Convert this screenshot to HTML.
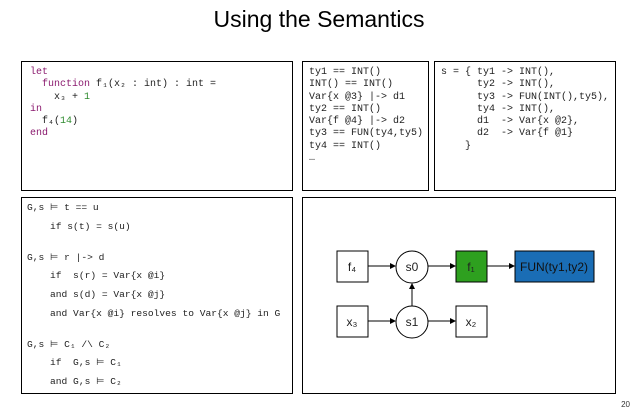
<!DOCTYPE html>
<html><head><meta charset="utf-8"><style>
body{margin:0;width:638px;height:415px;background:#fff;position:relative;overflow:hidden;font-family:"Liberation Sans",sans-serif}
.t{position:absolute;left:0;width:638px;top:6px;text-align:center;font-size:23px;color:#000}
.b{position:absolute;border:1.5px solid #000;box-sizing:border-box}
pre{margin:0;font-family:"Liberation Mono",monospace;font-size:10px;color:#222;position:absolute}
.l{position:absolute;font-family:"Liberation Mono",monospace;font-size:9.6px;color:#222;white-space:pre;left:27px}
.k{color:#8a1a6e}.n{color:#2e8b2e}
.pg{position:absolute;right:8px;top:400px;font-size:8px;color:#333}
</style></head><body>
<div class="t">Using the Semantics</div>
<div class="b" style="left:21px;top:61px;width:272px;height:130px"></div>
<pre style="left:30px;top:67px;line-height:12.3px"><span class="k">let</span>
  <span class="k">function</span> f₁(x₂ : int) : int =
    x₃ + <span class="n">1</span>
<span class="k">in</span>
  f₄(<span class="n">14</span>)
<span class="k">end</span></pre>
<div class="b" style="left:302px;top:61px;width:127px;height:130px"></div>
<pre style="left:309px;top:67px;line-height:12.3px">ty1 == INT()
INT() == INT()
Var{x @3} |-> d1
ty2 == INT()
Var{f @4} |-> d2
ty3 == FUN(ty4,ty5)
ty4 == INT()
…</pre>
<div class="b" style="left:434px;top:61px;width:182px;height:130px"></div>
<pre style="left:441px;top:67px;line-height:12.3px">s = { ty1 -> INT(),
      ty2 -> INT(),
      ty3 -> FUN(INT(),ty5),
      ty4 -> INT(),
      d1  -> Var{x @2},
      d2  -> Var{f @1}
    }</pre>
<div class="b" style="left:21px;top:197px;width:272px;height:197px"></div>
<div class="l" style="top:202px">G,s ⊨ t == u</div>
<div class="l" style="top:221px">    if s(t) = s(u)</div>
<div class="l" style="top:252px">G,s ⊨ r |-> d</div>
<div class="l" style="top:270px">    if  s(r) = Var{x @i}</div>
<div class="l" style="top:289px">    and s(d) = Var{x @j}</div>
<div class="l" style="top:308px">    and Var{x @i} resolves to Var{x @j} in G</div>
<div class="l" style="top:339px">G,s ⊨ C₁ /\ C₂</div>
<div class="l" style="top:357px">    if  G,s ⊨ C₁</div>
<div class="l" style="top:376px">    and G,s ⊨ C₂</div>
<div class="b" style="left:302px;top:197px;width:314px;height:197px"></div>
<svg style="position:absolute;left:0;top:0" width="638" height="415" font-family="Liberation Sans" font-size="12">
<defs><marker id="a" markerWidth="6" markerHeight="6" refX="5" refY="3" orient="auto"><path d="M0,0L6,3L0,6z" fill="#000"/></marker></defs>
<g stroke="#000" stroke-width="1" fill="#fff">
<rect x="337" y="251" width="31" height="31"/>
<rect x="337" y="306" width="31" height="31"/>
<rect x="456" y="306" width="31" height="31"/>
<rect x="456" y="251" width="31" height="31" fill="#2ea01f"/>
<rect x="515" y="251" width="79" height="31" fill="#1a6db5"/>
<circle cx="412" cy="267" r="16"/>
<circle cx="412" cy="322" r="16"/>
<line x1="368" y1="266" x2="395" y2="266" marker-end="url(#a)"/>
<line x1="428" y1="266" x2="455" y2="266" marker-end="url(#a)"/>
<line x1="487" y1="266" x2="514" y2="266" marker-end="url(#a)"/>
<line x1="368" y1="321" x2="395" y2="321" marker-end="url(#a)"/>
<line x1="428" y1="321" x2="455" y2="321" marker-end="url(#a)"/>
<line x1="412" y1="306" x2="412" y2="284" marker-end="url(#a)"/>
</g>
<g text-anchor="middle" fill="#222">
<text x="352" y="271">f₄</text><text x="412" y="271">s0</text><text x="471" y="271">f₁</text>
<text x="554" y="271" fill="#111">FUN(ty1,ty2)</text>
<text x="352" y="326">x₃</text><text x="412" y="326">s1</text><text x="471" y="326">x₂</text>
</g></svg>
<div class="pg">20</div>
</body></html>
